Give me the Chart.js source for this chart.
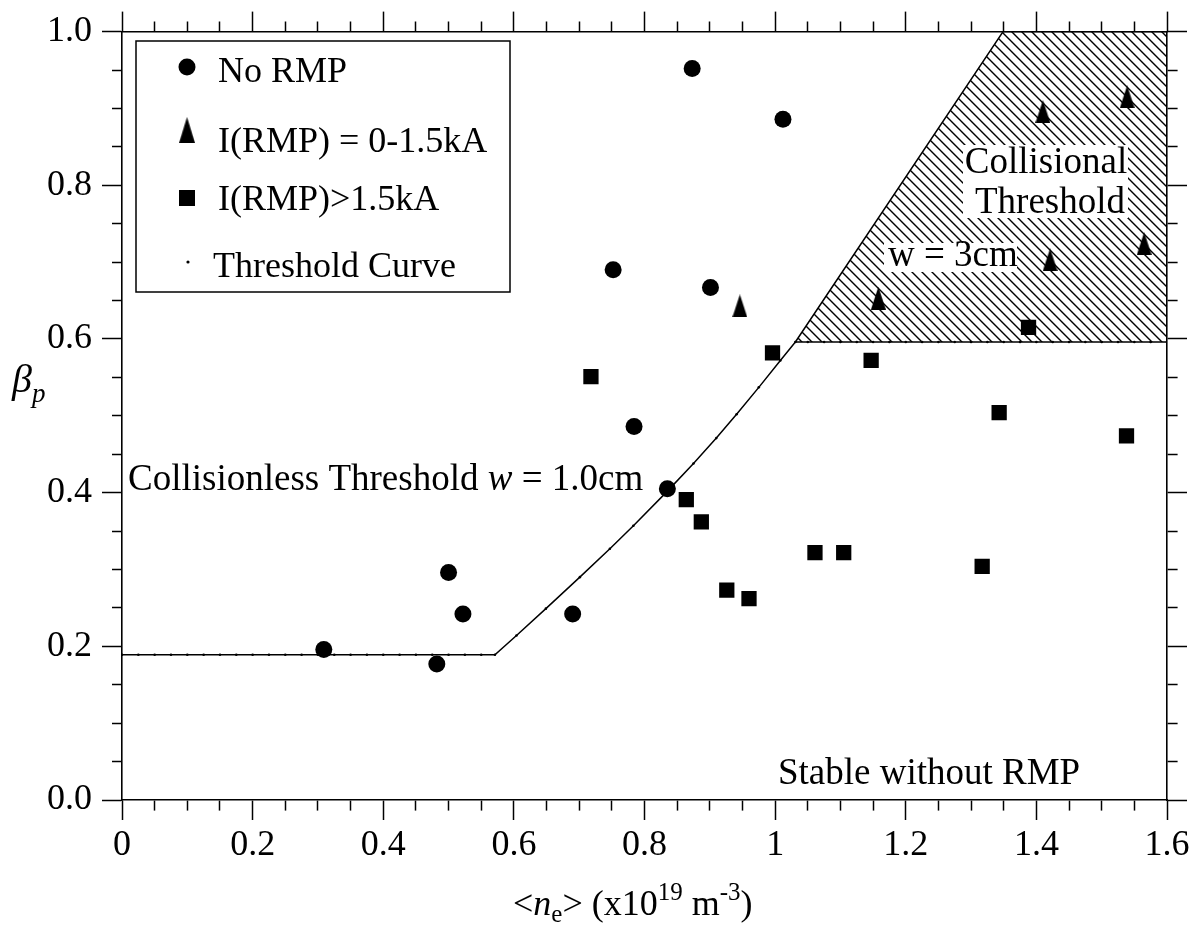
<!DOCTYPE html>
<html>
<head>
<meta charset="utf-8">
<script src="https://cdn.jsdelivr.net/npm/chart.js@4.4.1/dist/chart.umd.min.js"></script>
<style>
  html, body { margin: 0; padding: 0; background: #fff; }
  canvas { display: block; }
</style>
</head>
<body>
<canvas id="chart" width="1199" height="949"></canvas>
<script>
// Poloidal beta against line-averaged density, grouped by RMP coil current.
const noRmpX   = [0.309, 0.482, 0.500, 0.522, 0.690, 0.752, 0.784, 0.835, 0.873, 0.901, 1.012];
const noRmpY   = [0.196, 0.177, 0.296, 0.242, 0.242, 0.690, 0.486, 0.405, 0.952, 0.667, 0.886];

const lowRmpX  = [0.946, 1.158, 1.410, 1.421, 1.539, 1.565];
const lowRmpY  = [0.643, 0.653, 0.896, 0.703, 0.915, 0.724];

const highRmpX = [0.718, 0.864, 0.887, 0.926, 0.960, 0.996, 1.061, 1.105, 1.147, 1.317, 1.343, 1.388, 1.538];
const highRmpY = [0.551, 0.391, 0.362, 0.273, 0.262, 0.582, 0.322, 0.322, 0.572, 0.304, 0.504, 0.615, 0.474];

// Threshold curve: flat collisionless part, rising branch, then the collisional floor
const thresholdX = [0, 0.025, 0.05, 0.075, 0.1, 0.125, 0.15, 0.175, 0.2, 0.225, 0.25, 0.275,
                    0.3, 0.325, 0.35, 0.375, 0.4, 0.425, 0.45, 0.475, 0.5, 0.525, 0.55, 0.571,
                    0.604, 0.649, 0.701, 0.747, 0.783, 0.834, 0.875, 0.910, 0.941, 0.975, 1.008, 1.031,
                    1.05, 1.075, 1.1, 1.125, 1.15, 1.175, 1.2, 1.225, 1.25, 1.275, 1.3, 1.325,
                    1.35, 1.375, 1.4, 1.425, 1.45, 1.475, 1.5, 1.525, 1.55, 1.575, 1.6];
const thresholdY = [0.189, 0.189, 0.189, 0.189, 0.189, 0.189, 0.189, 0.189, 0.189, 0.189, 0.189, 0.189,
                    0.189, 0.189, 0.189, 0.189, 0.189, 0.189, 0.189, 0.189, 0.189, 0.189, 0.189, 0.189,
                    0.214, 0.249, 0.290, 0.327, 0.357, 0.401, 0.438, 0.471, 0.502, 0.537, 0.572, 0.596,
                    0.596, 0.596, 0.596, 0.596, 0.596, 0.596, 0.596, 0.596, 0.596, 0.596, 0.596, 0.596,
                    0.596, 0.596, 0.596, 0.596, 0.596, 0.596, 0.596, 0.596, 0.596, 0.596, 0.596];

// Upper edge of the collisional (w = 3cm) region and its floor level
const collisionalX = [1.031, 1.349, 1.6];
const collisionalY = [0.596, 1.0, 1.0];
const collisionalFloor = 0.596;

const xTickLabels = ['0', '0.2', '0.4', '0.6', '0.8', '1', '1.2', '1.4', '1.6'];
const yTickLabels = ['0.0', '0.2', '0.4', '0.6', '0.8', '1.0'];

const FONT = 'Liberation Serif';
const INK = '#000';
const MAJOR_LEN = 20;
const MINOR_LEN = 10;

const pts = (xs, ys) => xs.map((x, i) => ({ x, y: ys[i] }));
const isMajor = v => { const r = v / 0.2; return Math.abs(r - Math.round(r)) < 1e-6; };

// Minor ticks are drawn as a shorter dash of the full-length tick line.
// Top/left tick lines start at their outer end, bottom/right ones at the axis line.
function tickDash(startsOutside) {
  return c => {
    if (!c.tick || isMajor(c.tick.value)) return [];
    return startsOutside ? [0, MAJOR_LEN - MINOR_LEN, MINOR_LEN, 1000] : [MINOR_LEN, 1000];
  };
}

function gridOpts(startsOutside) {
  return {
    display: true,
    drawOnChartArea: false,
    drawTicks: true,
    tickLength: MAJOR_LEN,
    tickWidth: 1.5,
    tickColor: INK,
    tickBorderDash: tickDash(startsOutside)
  };
}
const borderOpts = { display: true, color: INK, width: 1.6 };

// Tall narrow triangle marker
function makeTriangle(w, h) {
  const c = document.createElement('canvas');
  c.width = w; c.height = h;
  const g = c.getContext('2d');
  g.fillStyle = INK;
  g.beginPath();
  g.moveTo(w / 2, 0);
  g.lineTo(w, h);
  g.lineTo(0, h);
  g.closePath();
  g.fill();
  return c;
}
const triangleMark = makeTriangle(15, 23);

// Back-slash hatching for the collisional region
function makeHatch(s) {
  const c = document.createElement('canvas');
  c.width = s; c.height = s;
  const g = c.getContext('2d');
  g.strokeStyle = INK;
  g.lineWidth = 1.4;
  g.beginPath();
  g.moveTo(-1, -1); g.lineTo(s + 1, s + 1);
  g.moveTo(-3, s - 3); g.lineTo(3, s + 3);
  g.moveTo(s - 3, -3); g.lineTo(s + 3, 3);
  g.stroke();
  return g.createPattern(c, 'repeat');
}
const hatchFill = makeHatch(10);

// Draws consecutive text runs with their own font and vertical shift
function textRuns(ctx, x, y, runs) {
  for (const [t, font, dy] of runs) {
    ctx.font = font;
    ctx.fillText(t, x, y + (dy || 0));
    x += ctx.measureText(t).width;
  }
  return x;
}

const R = s => `${s}px "${FONT}"`;
const I = s => `italic ${s}px "${FONT}"`;

const annotations = {
  id: 'annotations',
  afterDraw(chart) {
    const ctx = chart.ctx;
    ctx.save();
    ctx.fillStyle = INK;
    ctx.textBaseline = 'alphabetic';
    ctx.textAlign = 'left';

    // Legend box
    ctx.fillStyle = '#fff';
    ctx.fillRect(136, 41, 374, 251);
    ctx.strokeStyle = INK;
    ctx.lineWidth = 1.5;
    ctx.strokeRect(136, 41, 374, 251);
    ctx.fillStyle = INK;
    ctx.beginPath(); ctx.arc(187, 67, 8.5, 0, Math.PI * 2); ctx.fill();
    ctx.drawImage(triangleMark, 187 - 8, 130 - 13, 16, 26);
    ctx.fillRect(187 - 8, 198 - 8, 16, 16);
    ctx.beginPath(); ctx.arc(188, 262, 1.6, 0, Math.PI * 2); ctx.fill();
    ctx.font = R(36);
    ctx.fillText('No RMP', 218, 82);
    ctx.fillText('I(RMP) = 0-1.5kA', 218, 152);
    ctx.fillText('I(RMP)>1.5kA', 218, 210);
    ctx.fillText('Threshold Curve', 213, 277);

    // Labels inside the hatched region, on white backing
    ctx.fillStyle = '#fff';
    ctx.fillRect(963, 145, 165, 73);
    ctx.fillRect(884, 243, 133, 29);
    ctx.fillStyle = INK;
    ctx.font = R(37);
    ctx.textAlign = 'center';
    ctx.fillText('Collisional', 1046, 173);
    ctx.fillText('Threshold', 1050, 213);
    ctx.textAlign = 'left';
    ctx.fillText('w = 3cm', 888, 266);

    ctx.fillText('Stable without RMP', 778, 784);
    textRuns(ctx, 128, 490, [
      ['Collisionless Threshold ', R(37)],
      ['w', I(37)],
      [' = 1.0cm', R(37)]
    ]);

    // Axis titles
    textRuns(ctx, 12, 392, [['β', I(40)], ['p', I(27), 10]]);
    textRuns(ctx, 513, 915, [
      ['<', R(36)], ['n', I(36)], ['e', R(25), 7], ['>', R(36)],
      [' (x10', R(36)], ['19', R(25), -15], [' m', R(36)], ['-3', R(25), -15], [')', R(36)]
    ]);
    ctx.restore();
  }
};

const chart = new Chart(document.getElementById('chart'), {
  type: 'scatter',
  data: {
    datasets: [
      {
        label: 'No RMP',
        data: pts(noRmpX, noRmpY),
        pointStyle: 'circle',
        pointRadius: 8.5,
        backgroundColor: INK,
        borderColor: INK,
        borderWidth: 0
      },
      {
        label: 'I(RMP) = 0-1.5kA',
        data: pts(lowRmpX, lowRmpY),
        pointStyle: triangleMark,
        pointRadius: 12,
        backgroundColor: INK,
        borderColor: INK
      },
      {
        label: 'I(RMP)>1.5kA',
        data: pts(highRmpX, highRmpY),
        pointStyle: 'rect',
        pointRadius: 10.8,
        backgroundColor: INK,
        borderColor: INK,
        borderWidth: 0
      },
      {
        type: 'line',
        label: 'Threshold Curve',
        data: pts(thresholdX, thresholdY),
        borderColor: INK,
        borderWidth: 1.5,
        tension: 0,
        fill: false,
        pointRadius: 1.3,
        pointBackgroundColor: INK,
        pointBorderWidth: 0
      },
      {
        type: 'line',
        label: 'Collisional Threshold',
        data: pts(collisionalX, collisionalY),
        borderColor: INK,
        borderWidth: 1.5,
        tension: 0,
        pointRadius: 0,
        backgroundColor: hatchFill,
        fill: { value: collisionalFloor }
      }
    ]
  },
  options: {
    responsive: false,
    animation: false,
    devicePixelRatio: 1,
    events: [],
    layout: { padding: 0 },
    plugins: {
      legend: { display: false },
      tooltip: { enabled: false }
    },
    scales: {
      x: {
        type: 'linear',
        position: 'bottom',
        min: 0, max: 1.6,
        ticks: {
          stepSize: 0.05,
          maxTicksLimit: 100,
          autoSkip: false,
          maxRotation: 0,
          padding: 4,
          color: INK,
          font: { family: FONT, size: 36 },
          callback: v => isMajor(v) ? xTickLabels[Math.round(v / 0.2)] : ''
        },
        grid: gridOpts(false),
        border: borderOpts,
        afterFit: s => { s.height = 149; }
      },
      xTop: {
        type: 'linear',
        axis: 'x',
        position: 'top',
        min: 0, max: 1.6,
        ticks: { stepSize: 0.05, maxTicksLimit: 100, autoSkip: false, display: false },
        grid: gridOpts(true),
        border: borderOpts,
        afterFit: s => { s.height = 30; }
      },
      y: {
        type: 'linear',
        position: 'left',
        min: 0, max: 1.0,
        ticks: {
          stepSize: 0.05,
          maxTicksLimit: 100,
          autoSkip: false,
          padding: 10,
          color: INK,
          font: { family: FONT, size: 36 },
          callback: v => isMajor(v) ? yTickLabels[Math.round(v / 0.2)] : ''
        },
        grid: gridOpts(true),
        border: borderOpts,
        afterFit: s => { s.width = 122; }
      },
      yRight: {
        type: 'linear',
        axis: 'y',
        position: 'right',
        min: 0, max: 1.0,
        ticks: { stepSize: 0.05, maxTicksLimit: 100, autoSkip: false, display: false },
        grid: gridOpts(false),
        border: borderOpts,
        afterFit: s => { s.width = 32; }
      }
    }
  },
  plugins: [annotations]
});
</script>
</body>
</html>
